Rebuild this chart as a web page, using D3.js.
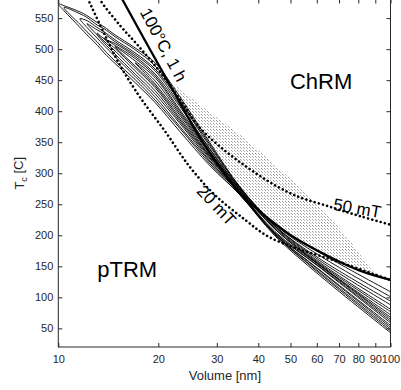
<!DOCTYPE html>
<html>
<head>
<meta charset="utf-8">
<script src="https://cdn.jsdelivr.net/npm/d3@7"></script>
<style>
  body { margin: 0; background: #fff; }
  text { font-family: "Liberation Sans", Arial, sans-serif; }
</style>
</head>
<body>
<svg id="chart" width="401" height="390"></svg>
<script>
// volumes (nm) at which the contour arms were read
const volGrid = [10, 10.4, 11.62, 12.2, 13.08, 13.73, 14.82, 17.03, 19.56, 23.25, 28.62, 35.23, 44.89, 61.3, 100];
// grid index where each contour loop has its tip
const contourTip = [0, 1, 2, 3, 4, 5, 6, 7];
// Tc of the upper / lower arm of each loop, from its tip to the right edge
const contourUpper = [
    [573, 570, 560, 554, 543, 536, 523, 502, 478, 423, 349, 278, 218, 172, 109],
    [567, 557, 551, 539, 533, 520, 499, 473, 418, 346, 277, 217, 167, 101],
    [549, 546, 535, 528, 515, 494, 468, 415, 343, 277, 215, 162, 94],
    [541, 531, 525, 512, 491, 465, 410, 339, 275, 215, 159, 88],
    [526, 517, 509, 488, 460, 407, 338, 275, 214, 156, 81],
    [517, 506, 485, 457, 402, 335, 273, 212, 154, 77],
    [504, 481, 454, 399, 333, 273, 210, 152, 72],
    [478, 449, 396, 331, 272, 210, 152, 68]
];
const contourLower = [
    [573, 562, 535, 523, 507, 494, 477, 446, 414, 367, 312, 265, 199, 135, 43],
    [567, 540, 528, 512, 499, 481, 451, 418, 372, 315, 265, 201, 138, 46],
    [549, 535, 518, 506, 488, 456, 423, 375, 318, 267, 201, 140, 49],
    [541, 523, 510, 492, 460, 428, 380, 320, 267, 202, 143, 52],
    [526, 513, 497, 465, 433, 383, 323, 268, 202, 144, 55],
    [517, 501, 470, 438, 386, 325, 268, 204, 148, 59],
    [504, 473, 441, 389, 327, 270, 204, 149, 62],
    [478, 444, 393, 328, 270, 206, 151, 65]
];

// [volume, Tc] along the 100 C / 1 h overprint line
const heatLine = [[15.3, 588], [18.9, 499], [22.5, 427], [26.7, 357], [30.7, 309], [35.2, 268],
    [40.5, 238], [49.8, 201], [65.7, 165], [80.9, 143], [100, 128]];
// coercivity lines
const mT20 = [[12.1, 588], [12.3, 580], [13.8, 523], [15.3, 475], [17.6, 423], [21.0, 367], [24.9, 310],
    [29.6, 265], [36.5, 225], [42.5, 199], [50.9, 181], [61.3, 167], [75.5, 151], [100, 128]];
const mT50 = [[13.2, 588], [13.35, 580], [15.3, 539], [17.3, 507], [20.2, 464], [23.3, 418], [26.7, 373],
    [35.2, 318], [49.8, 268], [65.7, 246], [80.9, 231], [100, 217]];
// outline of the dotted (stippled) band
const stippleUpper = [[20.2, 459], [26.7, 410], [35.2, 362], [46.5, 306], [58.4, 257], [74.0, 197], [88.0, 144], [93.0, 133]];
const stippleLower = [[80.9, 143], [65.7, 165], [49.8, 201], [40.5, 238], [35.2, 268], [30.7, 309], [26.7, 357], [22.5, 427]];

const labelText = ["ChRM", "pTRM", "100°C, 1 h", "20 mT", "50 mT"];
const labelVol = [49.8, 13.1, 19.0, 31, 78.8];
const labelTemp = [436, 133, 496, 256, 233];

const xTicks = [10, 20, 30, 40, 50, 60, 70, 80, 90, 100];
const yTicks = [50, 100, 150, 200, 250, 300, 350, 400, 450, 500, 550];

const axisColor = "#262626";
const svg = d3.select("#chart");

const x = d3.scaleLog().domain([10, 100]).range([58.3, 390.5]);
const y = d3.scaleLinear().domain([20, 580]).range([347, -0.5]);

const defs = svg.append("defs");
defs.append("clipPath").attr("id", "plotclip")
  .append("rect")
    .attr("x", x(10)).attr("y", y(580))
    .attr("width", x(100) - x(10)).attr("height", y(20) - y(580));

const pat = defs.append("pattern")
    .attr("id", "stip")
    .attr("patternUnits", "userSpaceOnUse")
    .attr("width", 3).attr("height", 3);
pat.append("rect").attr("x", 0).attr("y", 0).attr("width", 1).attr("height", 1).attr("fill", "#9a9a9a");
pat.append("rect").attr("x", 1).attr("y", 1).attr("width", 1).attr("height", 1).attr("fill", "#b0b0b0");

const plot = svg.append("g").attr("clip-path", "url(#plotclip)");

const line = d3.line()
    .x(d => x(d[0]))
    .y(d => y(d[1]));

// stippled band
plot.append("path")
    .attr("d", line.curve(d3.curveCatmullRomClosed)(stippleUpper.concat(stippleLower)))
    .attr("fill", "url(#stip)")
    .attr("stroke", "none");

// contour loops
const contourLine = d3.line()
    .x(d => x(d[0]))
    .y(d => y(d[1]))
    .curve(d3.curveCatmullRom.alpha(0.5));

contourTip.forEach((start, i) => {
    const vols = volGrid.slice(start);
    const up = vols.map((v, j) => [v, contourUpper[i][j]]);
    const lo = vols.map((v, j) => [v, contourLower[i][j]]);
    const pts = up.slice().reverse().concat(lo.slice(1));
    plot.append("path")
        .attr("d", contourLine(pts))
        .attr("fill", "none")
        .attr("stroke", "#000")
        .attr("stroke-width", 0.9);
});

// dotted coercivity lines
[mT20, mT50].forEach(data => {
    plot.append("path")
        .attr("d", contourLine(data))
        .attr("fill", "none")
        .attr("stroke", "#000")
        .attr("stroke-width", 2.6)
        .attr("stroke-linecap", "round")
        .attr("stroke-dasharray", "0.01 4.3");
});

// thick overprint line
plot.append("path")
    .attr("d", contourLine(heatLine))
    .attr("fill", "none")
    .attr("stroke", "#000")
    .attr("stroke-width", 2.3);

// annotations
const labelSize = [22, 22, 17, 17, 17];
const labelAngle = [0, 0, 62, 47, 10];
const labelAnchor = ["start", "start", "middle", "middle", "middle"];
const labelDy = ["0", "0", "-0.5em", "0.75em", "-0.05em"];
labelText.forEach((t, i) => {
    svg.append("text")
        .attr("transform", "translate(" + x(labelVol[i]) + "," + y(labelTemp[i]) + ") rotate(" + labelAngle[i] + ")")
        .attr("text-anchor", labelAnchor[i])
        .attr("dy", labelDy[i])
        .style("font-size", labelSize[i] + "px")
        .attr("fill", "#000")
        .text(t);
});

// axes, MATLAB style: ticks inside, box all round
svg.append("g")
    .attr("transform", "translate(0," + y(20) + ")")
    .call(d3.axisBottom(x).tickValues(xTicks).tickFormat(d3.format("d")).tickSizeInner(-4).tickSizeOuter(0).tickPadding(8));
svg.append("g")
    .attr("transform", "translate(0," + y(580) + ")")
    .call(d3.axisTop(x).tickValues(xTicks).tickFormat("").tickSizeInner(-4).tickSizeOuter(0));
svg.append("g")
    .attr("transform", "translate(" + x(10) + ",0)")
    .call(d3.axisLeft(y).tickValues(yTicks).tickSizeInner(-4).tickSizeOuter(0).tickPadding(5));
svg.append("g")
    .attr("transform", "translate(" + x(100) + ",0)")
    .call(d3.axisRight(y).tickValues(yTicks).tickFormat("").tickSizeInner(-4).tickSizeOuter(0));

svg.selectAll(".domain").remove();
svg.selectAll(".tick line").attr("stroke", axisColor);
svg.selectAll(".tick text")
    .attr("fill", axisColor)
    .style("font-size", "11px")
    .style("font-family", "'Liberation Sans', Arial, sans-serif");

svg.append("rect")
    .attr("x", x(10)).attr("y", y(580))
    .attr("width", x(100) - x(10)).attr("height", y(20) - y(580))
    .attr("fill", "none")
    .attr("stroke", axisColor)
    .attr("stroke-width", 1);

svg.append("text")
    .attr("x", (x(10) + x(100)) / 2 + 0.5)
    .attr("y", 380)
    .attr("text-anchor", "middle")
    .attr("fill", axisColor)
    .style("font-size", "13px")
    .text("Volume [nm]");

const yLab = svg.append("text")
    .attr("transform", "translate(24," + y(300) + ") rotate(-90)")
    .attr("text-anchor", "middle")
    .attr("fill", axisColor)
    .style("font-size", "13px");
yLab.append("tspan").text("T");
yLab.append("tspan").attr("dy", "0.3em").style("font-size", "9px").text("c");
yLab.append("tspan").attr("dy", "-0.3em").text(" [C]");
</script>
</body>
</html>
